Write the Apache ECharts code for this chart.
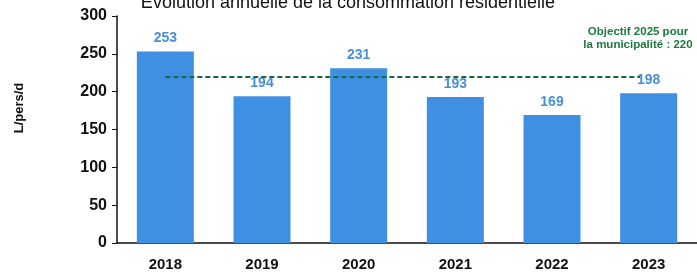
<!DOCTYPE html>
<html><head><meta charset="utf-8">
<script src="https://cdn.jsdelivr.net/npm/echarts@6/dist/echarts.min.js"></script>
<style>html,body{margin:0;padding:0;background:#fff}#c{width:697px;height:276px}</style>
</head><body><div id="c"></div>
<script>
const categories = ['2018','2019','2020','2021','2022','2023'];
const consumption = [253, 194, 231, 193, 169, 198];
const targetValue = 220;
const yTicks = [0, 50, 100, 150, 200, 250, 300];
const titleText = 'Évolution annuelle de la consommation résidentielle';
const targetNote = 'Objectif 2025 pour\nla municipalité : 220';
const yName = 'L/pers/d';

const chart = echarts.init(document.getElementById('c'), null, {renderer:'canvas'});
chart.setOption({
  animation: false,
  title: {
    text: titleText, left: 343, top: -11, textAlign: 'center',
    textStyle: {fontFamily: 'Liberation Sans', fontSize: 18, fontWeight: 'normal', color: '#111'}
  },
  graphic: [
    {type:'text', x: 638, y: 25, style:{text: targetNote, fill:'#1e7a3c', font:'bold 11.5px "Liberation Sans"', align:'center', lineHeight: 13}},
    {type:'text', x: 19, y: 108, rotation: Math.PI/2, style:{text: yName, fill:'#111', font:'bold 13px "Liberation Sans"', align:'center', verticalAlign:'middle'}}
  ],
  grid: {left: 117, right: -4, top: 16, bottom: 33, containLabel: false},
  xAxis: {
    type: 'category', data: categories,
    axisLine: {lineStyle: {color: '#111', width: 1.5}},
    axisTick: {show: false},
    axisLabel: {color: '#111', fontFamily: 'Liberation Sans', fontWeight: 'bold', fontSize: 15, margin: 14}
  },
  yAxis: {
    type: 'value', min: yTicks[0], max: yTicks[yTicks.length-1], interval: 50,
    axisLine: {show: true, lineStyle: {color: '#111', width: 1.5}},
    axisTick: {show: true, length: 5, lineStyle: {color: '#111'}},
    splitLine: {show: false},
    axisLabel: {color: '#111', fontFamily: 'Liberation Sans', fontWeight: 'bold', fontSize: 16, margin: 10}
  },
  series: [{
    type: 'bar', data: consumption, barWidth: 57,
    itemStyle: {color: '#3f8fe2'},
    label: {show: true, position: 'top', distance: 6, color: '#4a8fd6', fontFamily: 'Liberation Sans', fontWeight: 'bold', fontSize: 14},
    markLine: {
      symbol: 'none', silent: true,
      lineStyle: {color: '#1a6b3a', type: [5, 3], width: 2},
      label: {show: false},
      data: [[{coord: [categories[0], targetValue]}, {coord: [categories[categories.length-1], targetValue], x: 640}]]
    }
  }]
});
</script></body></html>
